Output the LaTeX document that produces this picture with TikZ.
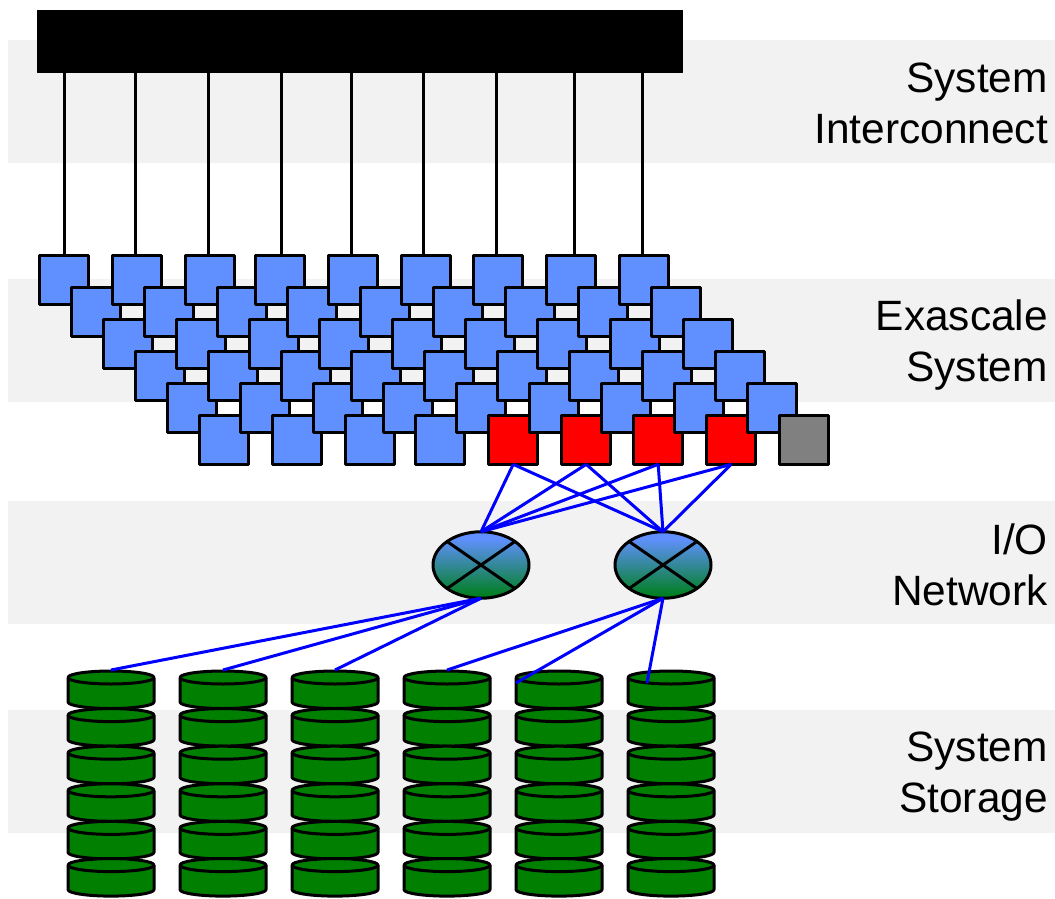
\documentclass[tikz,border=0pt]{standalone}
\usepackage{fontspec}
\setmainfont{Liberation Sans}
\usetikzlibrary{shapes.geometric}
\definecolor{bandgray}{HTML}{F2F2F2}
\definecolor{cellblue}{HTML}{6090FF}
\definecolor{diskgreen}{HTML}{007F00}
\definecolor{routergreen}{HTML}{007F1F}
\pgfdeclareverticalshading{routershade}{100bp}{color(0bp)=(routergreen);color(27bp)=(routergreen);color(70bp)=(cellblue);color(100bp)=(cellblue)}
\tikzset{
  x=1pt,y=-1pt,
  band/.style={fill=bandgray,draw=none},
  label/.style={font=\fontsize{42.4}{51}\selectfont,align=right,anchor=east,inner sep=0pt,text=black},
  cell/.style={draw=black,line width=3pt,line join=round,minimum size=48.7pt,inner sep=0pt,outer sep=0pt,shape=rectangle},
  router/.style={shape=ellipse,draw=black,line width=3pt,minimum width=96pt,minimum height=66.5pt,inner sep=0pt,outer sep=0pt,shading=routershade},
  diskbox/.style={shape=rectangle,minimum width=88pt,minimum height=40pt,inner sep=0pt,outer sep=0pt},
  diskline/.style={draw=black,line width=3pt,line join=round,fill=diskgreen},
  wire/.style={draw=black,line width=3pt},
  link/.style={draw=blue,line width=3pt},
}
\begin{document}
\begin{tikzpicture}
\useasboundingbox (0,0) rectangle (1055,899);
\fill[white] (0,0) rectangle (1055,899);
\path[band] (8,40) rectangle (1055,163);
\path[band] (8,279) rectangle (1055,402);
\path[band] (8,501) rectangle (1055,624);
\path[band] (8,710) rectangle (1055,833);
\node[label] at (1048,103) {System\\Interconnect};
\node[label] at (1048,345) {Exascale\\System};
\node[label] at (1048,564.5) {I/O\\Network};
\node[label] at (1048,777) {System\\Storage};
% bus
\node[fill=black,draw=black,line width=1pt,line join=round,minimum width=645pt,minimum height=62pt,inner sep=0pt,outer sep=0pt,anchor=north west] (bus) at (37.5,10.5) {};
% cells, chain by chain
\foreach \c/\x in {1/64.2,2/137.2,3/210.2,4/280.2,5/353.2,6/426.2,7/498.2,8/571.2,9/644.2}{
  \foreach \r in {1,...,6}{
    \pgfmathtruncatemacro\cc{ifthenelse(\r==6 && \c>=5 && \c<=8,1,ifthenelse(\r==6 && \c==9,2,0))}
    \ifcase\cc \def\fc{cellblue}\or \def\fc{red}\or \def\fc{gray}\fi
    \node[cell,fill=\fc] (s\c-\r) at ({\x+32*(\r-1)},{280+32*(\r-1)}) {};
  }
}
% wires
\foreach \c/\d in {1/0,2/-2,3/-2,4/1,5/-2,6/-3,7/-2,8/3,9/-2}{
  \draw[wire] ([xshift=\d pt]s\c-1.north |- bus.south) -- ([xshift=\d pt]s\c-1.north);
}
% routers
\node[router] (r1) at (481,565) {};
\node[router] (r2) at (663,565) {};
\foreach \r in {r1,r2}{
  \draw[black,line width=3pt] (\r.north west) -- (\r.south east);
  \draw[black,line width=3pt] (\r.north east) -- (\r.south west);
}
% disks
\foreach \c/\x in {1/111,2/223,3/335,4/447,5/559,6/671}{
  \foreach \r/\y in {1/671,2/708.6,3/746.2,4/783.8,5/821.4,6/858.6}{
    \node[diskbox] (d\c-\r) at (\x,\y+19) {};
    \draw[diskline] (\x-43,\y+6.5) -- (\x-43,\y+31) arc[start angle=180,end angle=0,x radius=43,y radius=6.5] -- (\x+43,\y+6.5);
    \draw[diskline] (\x,\y+6.5) ellipse[x radius=43,y radius=6.5];
  }
}
% links
\foreach \c in {5,6,7,8}{
  \draw[link] (s\c-6.south) -- (r1.north);
  \draw[link] (s\c-6.south) -- (r2.north);
}
\coordinate (e5) at (516,683);
\coordinate (e6) at (647,683);
\foreach \c in {1,2,3}{
  \draw[link] (r1.south) -- (d\c-1.north);
}
\draw[link] (r2.south) -- (d4-1.north);
\draw[link] (r2.south) -- (e5);
\draw[link] (r2.south) -- (e6);
\end{tikzpicture}
\end{document}
